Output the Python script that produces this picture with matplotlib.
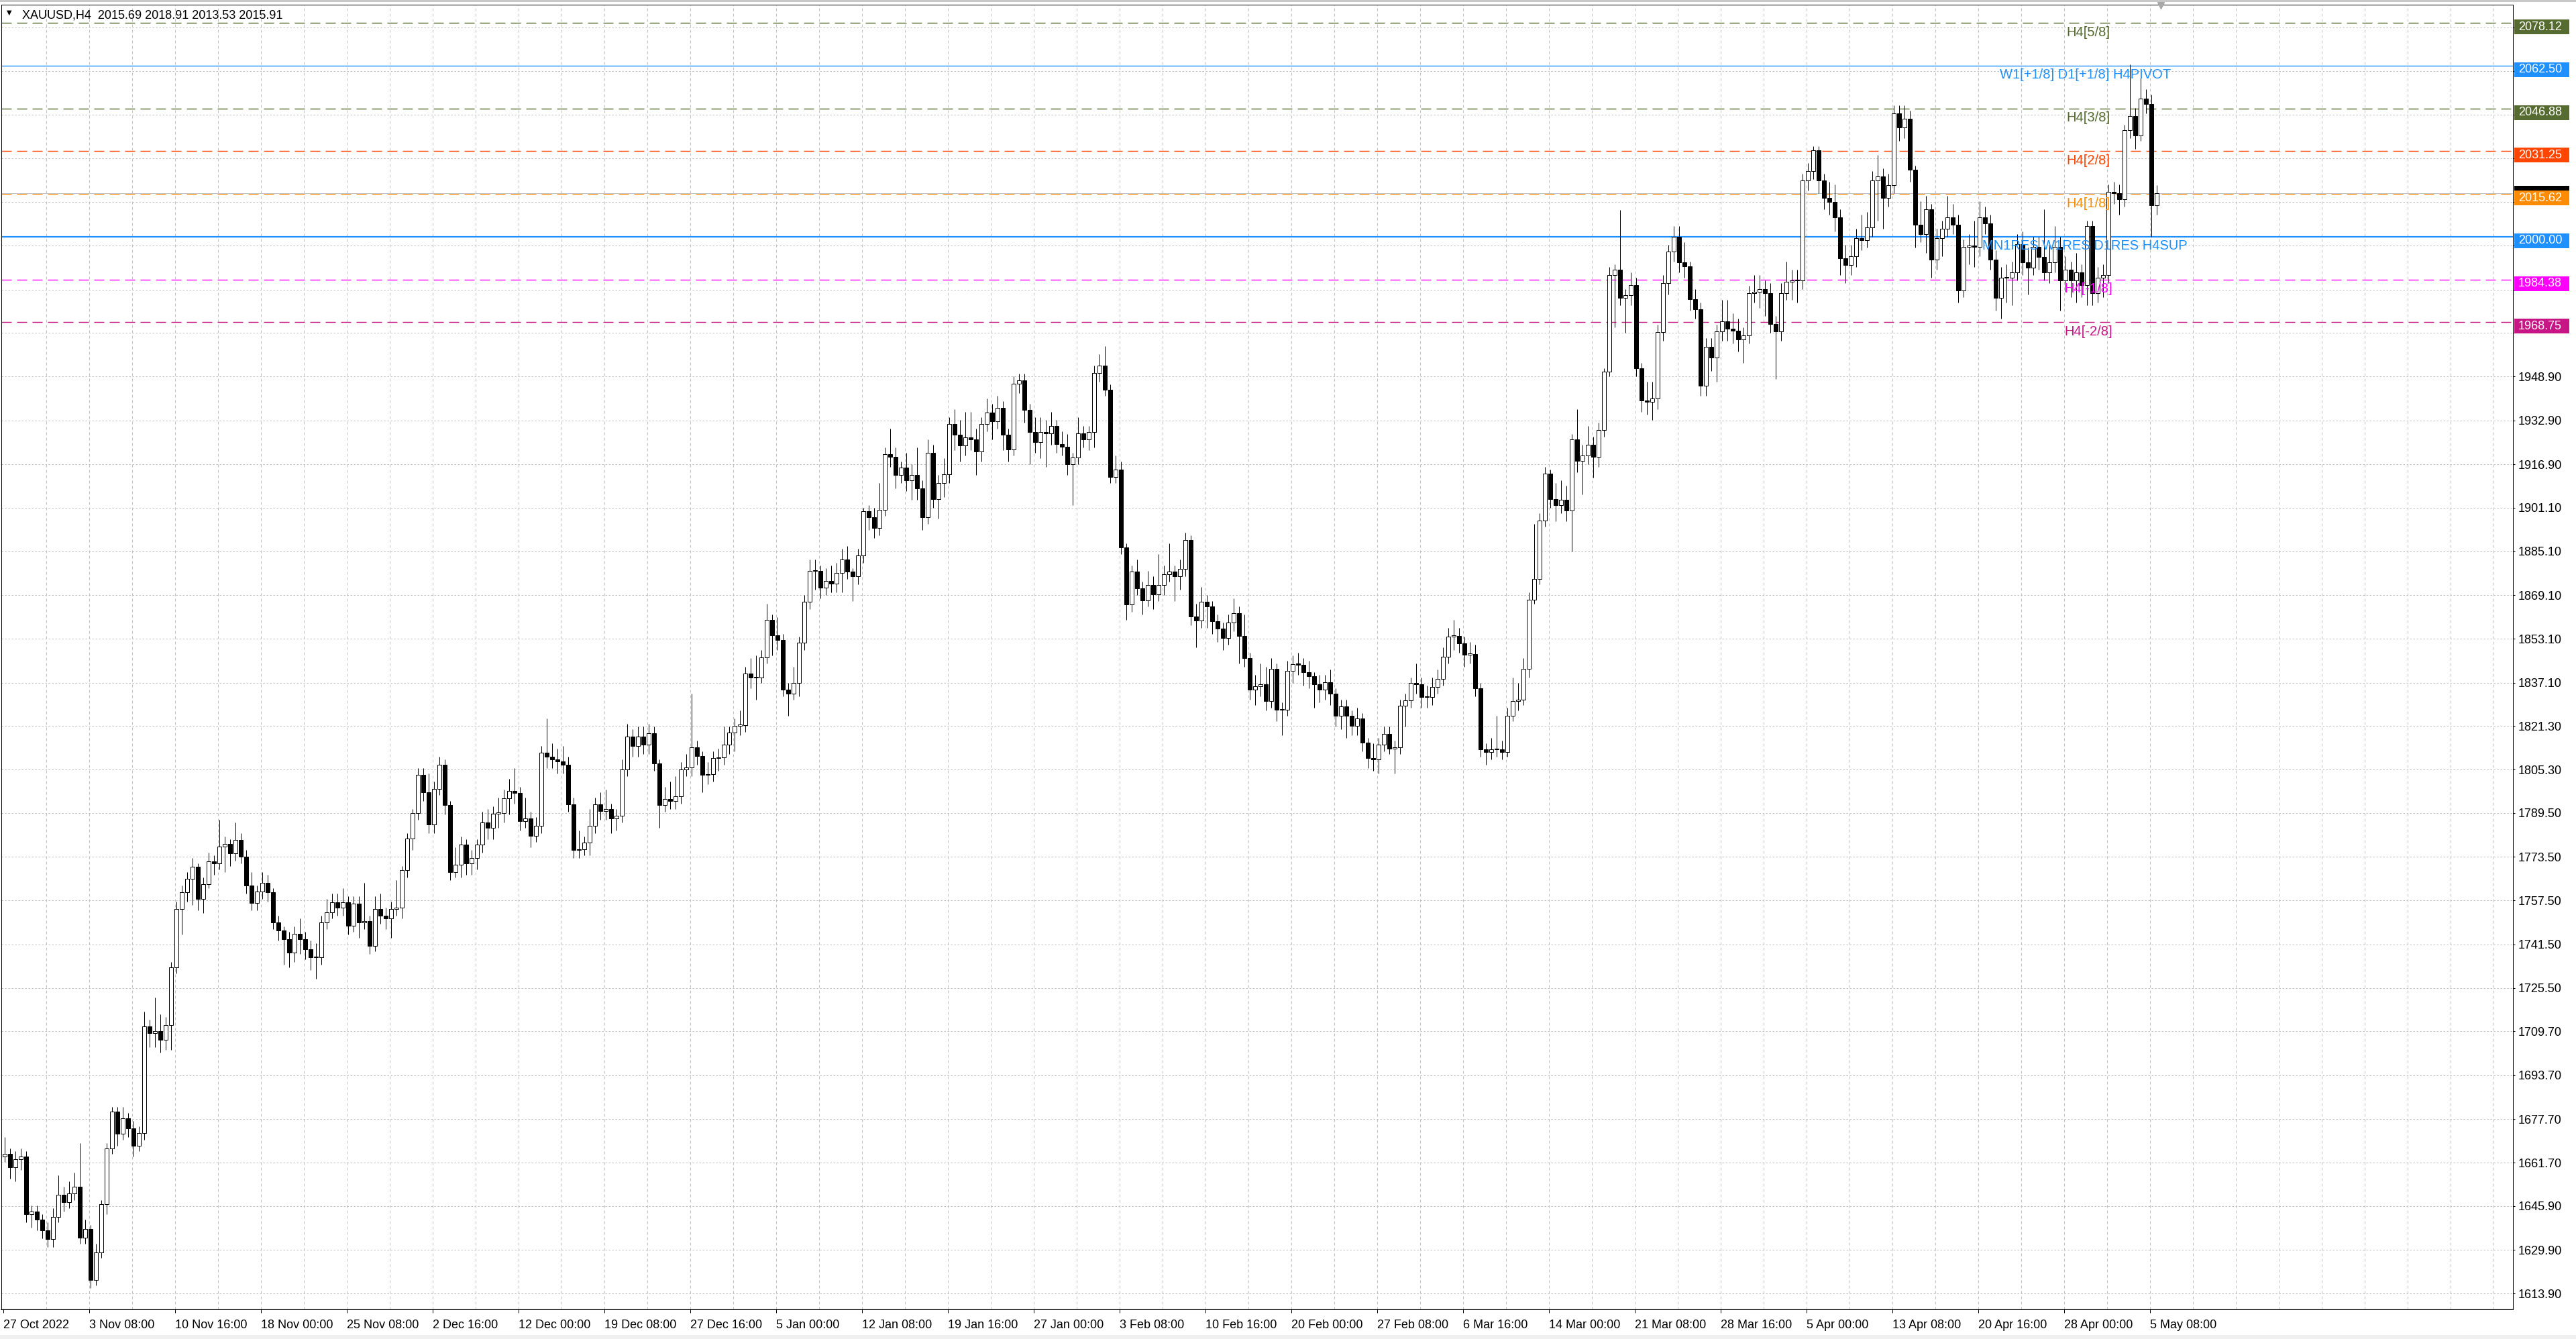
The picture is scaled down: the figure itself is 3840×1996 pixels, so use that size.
import numpy as np
import matplotlib
matplotlib.use("Agg")
import matplotlib.pyplot as plt
from matplotlib.patches import Rectangle
from matplotlib.transforms import blended_transform_factory

plt.rcParams['font.family'] = ['Liberation Sans', 'DejaVu Sans']
plt.rcParams['lines.scale_dashes'] = False

# ---- data (XAUUSD H4, each candle here = 2 H4 bars) ----
title_text = "XAUUSD,H4  2015.69 2018.91 2013.53 2015.91"
first_open = 1664.0
bars_per_candle = 2

closes = [
    1665, 1660, 1663, 1664, 1643, 1644, 1641, 1637, 1633.8, 1642,
    1650, 1647.3, 1650.4, 1653, 1634.4, 1637.5, 1619, 1629, 1646.7, 1667,
    1680.4, 1672.4, 1678, 1674.2, 1668, 1672.6, 1711.6, 1709, 1709.8, 1706.7,
    1712, 1733, 1754.5, 1760.6, 1765.5, 1769.8, 1758, 1763.6, 1771.9, 1771,
    1777.1, 1778.3, 1774.7, 1779.6, 1773.5, 1763, 1756.7, 1760.8, 1764, 1760.6,
    1749.6, 1746.5, 1743.4, 1738.5, 1745.3, 1743.4, 1739.8, 1736.7, 1736.7, 1749.6,
    1753.2, 1756.9, 1755, 1756.9, 1748.3, 1756.3, 1749.6, 1750, 1741, 1754.5,
    1752, 1751, 1754.5, 1755, 1768.6, 1780.2, 1789.4, 1803.5, 1797, 1785.3,
    1798.4, 1807, 1792.3, 1768, 1770.5, 1777.9, 1771, 1773, 1777.9, 1786,
    1784, 1789.3, 1789.4, 1794.8, 1797.6, 1796.8, 1786.5, 1787.4, 1781.2, 1784.9,
    1811.6, 1810.1, 1809.1, 1808.3, 1807, 1792.7, 1775.9, 1776.3, 1778.8, 1784.9,
    1792.7, 1790.2, 1790.9, 1787.4, 1788.6, 1805.4, 1817.3, 1814, 1817.3, 1814.5,
    1818.6, 1807.5, 1792.3, 1794.7, 1793.9, 1795.6, 1805.4, 1806.2, 1813.6, 1810.3,
    1803.4, 1803.8, 1809.5, 1809.9, 1814.5, 1818.8, 1821.4, 1821.5, 1840.4, 1838.9,
    1839, 1846.3, 1860, 1854.5, 1852.7, 1834.6, 1833, 1836.9, 1851.7, 1866.6,
    1877.9, 1878, 1871.7, 1874.2, 1873.4, 1877.3, 1882.2, 1877.7, 1876, 1883.7,
    1899.7, 1897.5, 1893.6, 1900.2, 1920.6, 1919.5, 1912.9, 1915.6, 1911, 1912.9,
    1908.1, 1897.5, 1921.1, 1904.1, 1910.1, 1913.2, 1931.5, 1927.7, 1923.8, 1926.6,
    1926, 1921.6, 1931.5, 1935.9, 1932.6, 1937.6, 1927.7, 1922.2, 1946.4, 1947.5,
    1936.7, 1928.8, 1925, 1928.8, 1928.3, 1931, 1924.2, 1923.3, 1916.9, 1919.4,
    1928.2, 1926, 1928.8, 1950.2, 1953, 1944.2, 1912.3, 1915, 1886.5, 1865.6,
    1877.7, 1871.6, 1867.2, 1872.9, 1869.4, 1872.7, 1876.6, 1877.7, 1876, 1878.8,
    1889.2, 1861.2, 1859.8, 1866.7, 1865, 1859.6, 1856.8, 1853.5, 1859, 1862.4,
    1854.1, 1846.1, 1834.6, 1835.8, 1836.5, 1830.5, 1842.2, 1827.2, 1827.2, 1841.5,
    1843.9, 1843.7, 1840.9, 1839.5, 1836.5, 1834.6, 1837.3, 1833.1, 1824.9, 1828.5,
    1824.9, 1821.3, 1824, 1815.3, 1809.6, 1809, 1814.5, 1818.4, 1813.1, 1813.4,
    1828.8, 1830.7, 1837.1, 1836.5, 1831.8, 1831.8, 1835.6, 1838.4, 1846.6, 1854,
    1854.2, 1851.4, 1847.4, 1847.6, 1835.1, 1812.8, 1811.7, 1812.8, 1812.8, 1811.7,
    1825, 1830.5, 1831, 1842.2, 1867.3, 1875, 1896.4, 1913.5, 1904.1, 1901.9,
    1903.9, 1899.9, 1926.1, 1918.2, 1920.1, 1923.9, 1919.7, 1929.4, 1950.8, 1986.1,
    1988, 1977.7, 1978.7, 1982.4, 1952, 1940.2, 1939.8, 1941, 1965.1, 1983.2,
    1994.5, 2000, 1990.7, 1989.3, 1977.1, 1973.5, 1945.7, 1959.8, 1956, 1965.4,
    1969, 1966.3, 1965.8, 1962.5, 1964, 1979.5, 1979.9, 1980.8, 1979.5, 1968.2,
    1965.4, 1979.5, 1983.7, 1984, 1984, 2020.7, 2024, 2031.5, 2020.7, 2014.2,
    2012.8, 2007.1, 1992.1, 1989.8, 1993, 1999.6, 1998.7, 2003.5, 2020.7, 2022.1,
    2014.2, 2018.9, 2045.1, 2040, 2043.2, 2024.5, 2004.3, 2001, 2010, 1991.7,
    1999.6, 2002.9, 2007.1, 2004.3, 1980.4, 1996.3, 1996.7, 1996.3, 2007.1, 2004.8,
    1991.7, 1977.6, 1985.1, 1985.1, 1987, 1997.3, 1990.7, 1988.8, 1996.3, 1992.6,
    1987, 1990.7, 1996.3, 1984.1, 1988, 1984.1, 1987, 1982.3, 2003.8, 1979.5,
    1985.1, 1986, 2016.5, 2015.9, 2013.7, 2039, 2044.2, 2037.1, 2050.4, 2048.5,
    2011.4, 2015.91,
]

highs = [
    1671, 1667, 1666, 1667, 1666, 1646, 1646, 1643, 1640, 1645,
    1657, 1653, 1655, 1658, 1669, 1641, 1639, 1632, 1648, 1669,
    1682, 1682, 1682, 1680, 1677, 1675, 1717, 1714, 1722, 1716,
    1715, 1735, 1757, 1763, 1768, 1773, 1771, 1766, 1775, 1774,
    1787, 1781, 1780, 1786, 1782, 1776, 1768, 1763, 1768, 1767,
    1762, 1752, 1748, 1746, 1748, 1751, 1746, 1743, 1742, 1752,
    1758, 1760, 1760, 1762, 1759, 1759, 1759, 1764, 1752, 1759,
    1760, 1755, 1757, 1765, 1770, 1782, 1791, 1806, 1806, 1804,
    1801, 1810, 1809, 1794, 1777, 1781, 1780, 1776, 1780, 1790,
    1791, 1792, 1795, 1798, 1802, 1806, 1799, 1795, 1790, 1788,
    1814, 1824, 1815, 1813, 1814, 1810, 1795, 1783, 1781, 1791,
    1795, 1797, 1798, 1793, 1791, 1809, 1822, 1820, 1821, 1821,
    1822, 1821, 1809, 1799, 1801, 1803, 1808, 1811, 1833, 1816,
    1812, 1808, 1812, 1813, 1821, 1821, 1824, 1827, 1843, 1846,
    1847, 1849, 1866, 1862, 1861, 1855, 1837, 1843, 1854, 1869,
    1882, 1882, 1880, 1879, 1880, 1881, 1886, 1887, 1879, 1886,
    1901, 1902, 1901, 1910, 1923, 1930, 1923, 1918, 1921, 1917,
    1923, 1911, 1926, 1924, 1913, 1919, 1934, 1937, 1933, 1936,
    1936, 1930, 1934, 1941, 1939, 1942, 1940, 1930, 1949, 1950,
    1950, 1939, 1934, 1934, 1933, 1936, 1933, 1929, 1928, 1921,
    1934, 1931, 1931, 1953, 1957, 1960, 1946, 1920, 1918, 1888,
    1880, 1882, 1874, 1878, 1876, 1884, 1880, 1888, 1880, 1882,
    1892, 1891, 1866, 1872, 1869, 1867, 1862, 1859, 1862, 1868,
    1865, 1862, 1848, 1840, 1844, 1843, 1846, 1844, 1830, 1845,
    1847, 1848, 1846, 1845, 1841, 1840, 1840, 1842, 1835, 1831,
    1831, 1827, 1828, 1826, 1817, 1815, 1817, 1821, 1821, 1816,
    1831, 1833, 1839, 1844, 1839, 1836, 1839, 1842, 1850, 1857,
    1860, 1857, 1854, 1852, 1851, 1837, 1815, 1817, 1825, 1816,
    1828, 1839, 1837, 1846, 1870, 1895, 1899, 1916, 1915, 1910,
    1911, 1909, 1928, 1937, 1924, 1931, 1927, 1932, 1952, 1989,
    1990, 2009.7, 1981, 1987, 1985, 1954, 1947, 1947, 1968, 1986,
    1997, 2004, 2004, 1998, 1991, 1981, 1976, 1963, 1963, 1968,
    1977, 1977, 1972, 1970, 1967, 1982, 1986, 1986, 1984, 1983,
    1971, 1983, 1991, 1988, 1988, 2023, 2027, 2033, 2033, 2023,
    2020, 2019, 2010, 1997, 1997, 2003, 2008, 2009, 2024, 2030,
    2025, 2023, 2048, 2048, 2048, 2046, 2026, 2013, 2015, 2012,
    2003, 2006, 2015, 2012, 2008, 1999, 2001, 2006, 2013, 2011,
    2008, 1995, 1989, 1990, 1991, 2001, 2002, 1996, 2000, 2000,
    2010, 1998, 2004, 2000, 1993, 1991, 1994, 1990, 2006, 2006,
    1989, 1990, 2019, 2020, 2019, 2041, 2063, 2047, 2058, 2054,
    2052, 2018.91,
]

lows = [
    1662, 1656, 1655, 1659, 1640, 1638, 1637, 1634, 1631, 1631,
    1640, 1644, 1645, 1648, 1632, 1632, 1616, 1617, 1627, 1643,
    1665, 1668, 1670, 1671, 1664, 1666, 1670, 1704, 1704, 1702,
    1703, 1703, 1731, 1745, 1757, 1756, 1754, 1753, 1762, 1767,
    1769, 1768, 1770, 1772, 1771, 1760, 1754, 1754, 1758, 1757,
    1747, 1743, 1734, 1733, 1735, 1738, 1736, 1732, 1729, 1734,
    1747, 1751, 1752, 1752, 1745, 1746, 1744, 1747, 1738, 1739,
    1749, 1747, 1744, 1752, 1751, 1766, 1776, 1787, 1794, 1782,
    1782, 1796, 1789, 1765, 1766, 1766, 1767, 1767, 1769, 1775,
    1780, 1780, 1784, 1786, 1789, 1793, 1783, 1784, 1777, 1779,
    1782, 1806, 1806, 1804, 1804, 1790, 1773, 1773, 1774, 1774,
    1782, 1787, 1787, 1782, 1783, 1786, 1803, 1810, 1810, 1811,
    1811, 1805, 1784, 1790, 1791, 1791, 1793, 1803, 1803, 1807,
    1797, 1800, 1801, 1805, 1807, 1811, 1812, 1818, 1819, 1835,
    1831, 1837, 1844, 1847, 1849, 1832, 1825, 1831, 1832, 1849,
    1864, 1871, 1868, 1869, 1870, 1870, 1870, 1875, 1867, 1873,
    1881, 1893, 1890, 1891, 1898, 1916, 1908, 1910, 1907, 1904,
    1904, 1893, 1895, 1901, 1897, 1905, 1910, 1922, 1918, 1920,
    1922, 1913, 1918, 1929, 1926, 1930, 1922, 1918, 1920, 1943,
    1932, 1917, 1921, 1919, 1916, 1924, 1921, 1920, 1913, 1902,
    1917, 1923, 1922, 1923, 1947, 1942, 1910, 1910, 1884, 1860,
    1863, 1869, 1862, 1865, 1864, 1867, 1869, 1874, 1867, 1871,
    1876, 1858, 1850, 1857, 1857, 1855, 1852, 1849, 1851, 1856,
    1844, 1843, 1831, 1829, 1832, 1827, 1828, 1823, 1818, 1825,
    1837, 1840, 1836, 1835, 1828, 1830, 1831, 1829, 1821, 1820,
    1817, 1818, 1818, 1812, 1806, 1805, 1804, 1812, 1811, 1804,
    1811, 1821, 1828, 1833, 1828, 1828, 1829, 1833, 1836, 1844,
    1849, 1848, 1843, 1844, 1832, 1810, 1807, 1809, 1810, 1809,
    1810, 1823, 1827, 1829, 1839, 1866, 1873, 1894, 1901, 1896,
    1899, 1896, 1885, 1914, 1906, 1917, 1912, 1916, 1927, 1949,
    1967, 1975, 1965, 1975, 1949, 1936, 1935, 1933, 1937, 1962,
    1979, 1991, 1987, 1985, 1973, 1970, 1942, 1942, 1951, 1947,
    1962, 1962, 1961, 1958, 1954, 1961, 1976, 1974, 1971, 1965,
    1948, 1962, 1977, 1977, 1976, 1981, 2017, 2021, 2016, 2010,
    2008, 2002, 1986, 1983, 1986, 1989, 1995, 1996, 2000, 2006,
    2003, 2011, 2016, 2035, 2036, 2020, 1996, 1998, 1994, 1985,
    1988, 1993, 2000, 2001, 1976, 1978, 1990, 1989, 1993, 2001,
    1988, 1973, 1970, 1976, 1975, 1984, 1986, 1979, 1986, 1988,
    1984, 1983, 1987, 1973, 1980, 1978, 1976, 1978, 1975, 1975,
    1976, 1978, 1983, 2012, 2008, 2011, 2036, 2032, 2035, 2045,
    2000, 2008,
]

x_labels = ["27 Oct 2022", "3 Nov 08:00", "10 Nov 16:00", "18 Nov 00:00", "25 Nov 08:00",
            "2 Dec 16:00", "12 Dec 00:00", "19 Dec 08:00", "27 Dec 16:00", "5 Jan 00:00",
            "12 Jan 08:00", "19 Jan 16:00", "27 Jan 00:00", "3 Feb 08:00", "10 Feb 16:00",
            "20 Feb 00:00", "27 Feb 08:00", "6 Mar 16:00", "14 Mar 00:00", "21 Mar 08:00",
            "28 Mar 16:00", "5 Apr 00:00", "13 Apr 08:00", "20 Apr 16:00", "28 Apr 00:00",
            "5 May 08:00"]
bars_per_label = 32

grid_prices = [1613.9, 1629.9, 1645.9, 1661.7, 1677.7, 1693.7, 1709.7, 1725.5, 1741.5,
               1757.5, 1773.5, 1789.5, 1805.3, 1821.3, 1837.1, 1853.1, 1869.1, 1885.1,
               1901.1, 1916.9, 1932.9, 1948.9, 1964.9, 1980.7, 1996.7, 2012.7, 2028.7,
               2044.6, 2060.5, 2076.5]

level_prices = [2078.12, 2062.50, 2046.88, 2031.25, 2015.62, 2000.00, 1984.38, 1968.75]
level_names = ["H4[5/8]", "W1[+1/8] D1[+1/8] H4PIVOT", "H4[3/8]", "H4[2/8]", "H4[1/8]",
               "MN1RES W1RES D1RES H4SUP", "H4[-1/8]", "H4[-2/8]"]
level_colors = ["#556B2F", "#1E90FF", "#556B2F", "#FF4500", "#FF8C00",
                "#1E90FF", "#FF00FF", "#C71585"]
level_solid = [False, True, False, False, False, True, False, False]
level_text_bar = [768.75, 744, 768.75, 768.75, 768.75, 737.5, 768, 768]
bid_price = 2015.91
last_bar = 803

# ---- figure ----
W, H = 3840, 1996
PX = 0.72  # one pixel in points at dpi 100
fig = plt.figure(figsize=(W / 100, H / 100), dpi=100)
fig.patch.set_facecolor('white')
ax = fig.add_axes([2 / W, 44 / H, 3744 / W, 1945 / H])
ax.set_xlim(-0.75, 935.25)
ax.set_ylim(1608.1, 2084.8)
ppd = 1945 / (2084.8 - 1608.1)  # pixels per dollar

# grid
for p in grid_prices:
    ax.axhline(p, color='#C0C0C0', lw=PX, dashes=(2.5 * PX, 2.5 * PX), zorder=1)
for b in range(16, 936, 16):
    ax.axvline(b, color='#C0C0C0', lw=PX, dashes=(4 * PX, 4 * PX), zorder=1)

# level lines
for p, col, solid in zip(level_prices, level_colors, level_solid):
    if solid:
        ax.axhline(p, color=col, lw=(2.2 if p == 2000.0 else 1.4) * PX, zorder=2)
    else:
        ax.axhline(p, color=col, lw=1.4 * PX, dashes=(15 * PX, 8 * PX), zorder=2)
ax.axhline(bid_price, color='#C0C0C0', lw=PX, zorder=2)

# candles
opens = [first_open] + closes[:-1]
o = np.array(opens, dtype=float)
c = np.array(closes, dtype=float)
hi = np.array(highs, dtype=float)
lo = np.array(lows, dtype=float)
xs = np.arange(len(c)) * bars_per_candle + (bars_per_candle - 1) / 2
bull = c >= o
ax.vlines(xs, lo, hi, color='black', lw=PX, zorder=3)
body_low = np.minimum(o, c)
body_h = np.maximum(np.abs(c - o), 0.3)
ax.bar(xs, body_h, bottom=body_low, width=1.3,
       color=np.where(bull, 'white', 'black'), edgecolor='black',
       linewidth=PX, zorder=4)

# level labels on chart
for p, name, col, bx in zip(level_prices, level_names, level_colors, level_text_bar):
    ax.text(bx, p - 1.1, name, color=col, fontsize=14.5, va='top', ha='left', zorder=6)

# axes styling
for s in ax.spines.values():
    s.set_color('black')
    s.set_linewidth(PX)
ax.spines['bottom'].set_linewidth(1.5 * PX)

# grid prices that sit under a level box get no readable label
def tick_text(p):
    covered = any(0 <= lv - p <= 4.5 for lv in level_prices)
    return "" if covered else f"{p:.2f}"

ax.yaxis.tick_right()
ax.set_yticks(grid_prices)
ax.set_yticklabels([tick_text(p) for p in grid_prices])
ax.tick_params(axis='y', length=3 * PX, width=PX, pad=3.6, labelsize=13, colors='black')

ax.set_xticks([i * bars_per_label for i in range(len(x_labels))])
ax.set_xticklabels(x_labels, ha='left')
ax.tick_params(axis='x', length=5 * PX, width=PX, pad=7, labelsize=13, colors='black')

# price boxes on the right scale (bid box sits behind the level boxes)
tr = blended_transform_factory(ax.transAxes, ax.transData)
bx0 = 1 + 2 / 3744
bw = 82 / 3744
tx = 1 + 8 / 3744
ax.add_patch(Rectangle((bx0, bid_price - 11 / ppd), bw, 22 / ppd, transform=tr,
                       facecolor='black', edgecolor='none', clip_on=False, zorder=7))
for i, (p, col) in enumerate(zip(level_prices, level_colors)):
    z = 8 + i * 0.1
    ax.add_patch(Rectangle((bx0, p - 17 / ppd), bw, 22 / ppd, transform=tr,
                           facecolor=col, edgecolor='none', clip_on=False, zorder=z))
    ax.text(tx, p - 6 / ppd, f"{p:.2f}", transform=tr, color='white', fontsize=13,
            va='center', ha='left', clip_on=False, zorder=z + 0.05)

# chart shift marker
ax.plot([last_bar + 1], [1 - 1 / 1945], marker='v', color='#A8A8A8', markersize=7,
        transform=blended_transform_factory(ax.transData, ax.transAxes),
        clip_on=False, zorder=9)

# title
fig.text(9.5 / W, 1 - 19 / H, "\u25BC", fontsize=7, family='DejaVu Sans',
         va='center', ha='left', color='black')
fig.text(33 / W, 1 - 27 / H, title_text, fontsize=13, va='baseline', ha='left',
         color='black')

# window edges
fig.add_artist(Rectangle((0, 1 - 3 / H), 1, 3 / H, transform=fig.transFigure,
                         facecolor='#C8C8C8', edgecolor='none'))
fig.add_artist(Rectangle((0, 0), 1, 6 / H, transform=fig.transFigure,
                         facecolor='#F0F0F0', edgecolor='none'))

fig.savefig("out.png", dpi=100, facecolor='white')
